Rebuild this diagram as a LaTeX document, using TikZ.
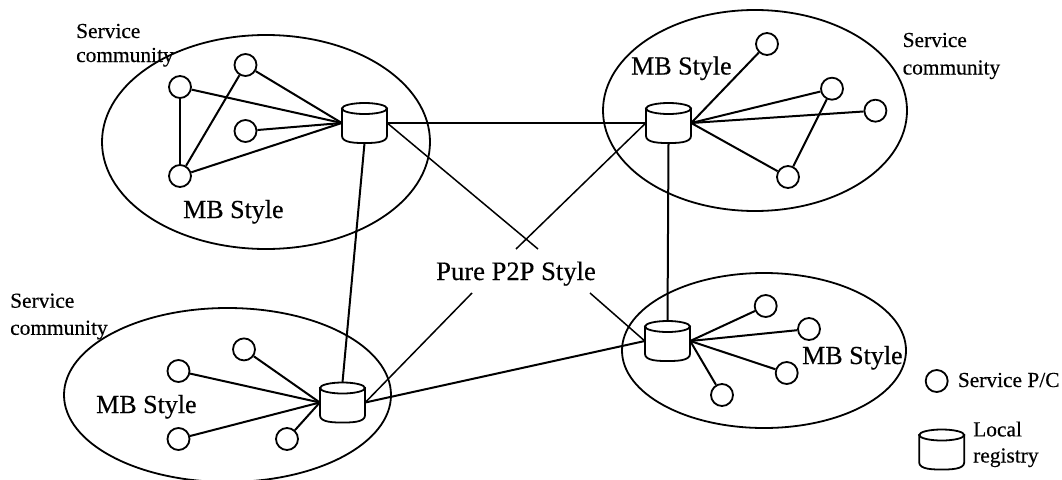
\documentclass[tikz,border=0pt]{standalone}
\usepackage{fontspec}
\setmainfont{Liberation Serif}[FakeBold=0.35]
\usetikzlibrary{shapes.geometric}
\tikzset{
  community/.style={draw=black,line width=1.8pt,ellipse,inner sep=0pt},
  peer/.style={draw=black,fill=white,line width=1.8pt,circle,minimum size=22pt,inner sep=0pt},
  hub/.style={minimum width=45pt,minimum height=40pt,inner sep=0pt},
  hub line/.style={draw=black,fill=white,line width=1.8pt},
  link/.style={draw=black,line width=2pt},
  backbone/.style={draw=black,line width=2pt},
  thin link/.style={draw=black,line width=1.5pt},
  big/.style={anchor=base west,inner sep=0pt,font=\fontsize{26}{28}\selectfont},
  bigger/.style={anchor=base west,inner sep=0pt,font=\fontsize{26.6}{28}\selectfont},
  small/.style={anchor=base west,inner sep=0pt,font=\fontsize{21.4}{25}\selectfont},
}
\newcommand{\registry}[3]{%
  \node[hub] (#1) at (#2,#3) {};
  \begin{scope}[shift={(#1.center)}]
    \path[hub line] (-22.5,-14.5) -- (-22.5,13) .. controls (-22.5,20) and (-8,20) .. (0,20)
      .. controls (8,20) and (22.5,20) .. (22.5,13) -- (22.5,-14.5) -- cycle;
    \path[hub line] (0,-14.5) ellipse [x radius=22.5pt,y radius=5.5pt];
  \end{scope}}
\begin{document}
\begin{tikzpicture}[x=1pt,y=-1pt]
\useasboundingbox (0,0) rectangle (1062,479);
% communities
\node[community,minimum width=328pt,minimum height=214pt] (c1) at (266,142) {};
\node[community,minimum width=304pt,minimum height=201pt] (c2) at (755,110.5) {};
\node[community,minimum width=327pt,minimum height=174pt] (c3) at (227.5,395) {};
\node[community,minimum width=284pt,minimum height=155pt] (c4) at (764,350.5) {};
% registries
\registry{h1}{364.5}{123}
\registry{h2}{668.5}{123}
\registry{h3}{342.5}{402.5}
\registry{h4}{667.5}{341}
% peers top left
\node[peer] (a1) at (180,87) {};
\node[peer] (a2) at (245.5,65) {};
\node[peer] (a3) at (245.5,131) {};
\node[peer] (a4) at (180,176) {};
% peers top right
\node[peer] (b1) at (767,44) {};
\node[peer] (b2) at (832,88.7) {};
\node[peer] (b3) at (875.4,110.7) {};
\node[peer] (b4) at (788,177) {};
% peers bottom left
\node[peer] (d1) at (244,349.4) {};
\node[peer] (d2) at (178.5,371) {};
\node[peer] (d3) at (178.5,439) {};
\node[peer] (d4) at (287,439) {};
% peers bottom right
\node[peer] (e1) at (765.7,306) {};
\node[peer] (e2) at (809,329) {};
\node[peer] (e3) at (786.7,373) {};
\node[peer] (e4) at (722,395) {};
% legend
\node[peer] (lp) at (936.7,381) {};
\registry{lh}{941.7}{449.5}
% labels
\node[small] (s1a) at (76,38) {Service};
\node[small] (s1b) at (76,62) {community};
\node[small] (s2a) at (902.5,47) {Service};
\node[small] (s2b) at (902.5,74.5) {community};
\node[small] (s3a) at (10,307.7) {Service};
\node[small] (s3b) at (10,334.8) {community};
\node[big] (m1) at (183,218) {MB Style};
\node[big] (m2) at (631,74.5) {MB Style};
\node[big] (m3) at (96,413) {MB Style};
\node[big] (m4) at (802,364) {MB Style};
\node[bigger] (pp) at (436,280) {Pure P2P Style};
\node[small] (lp1) at (957.7,387) {Service P/C};
\node[small] (lh1) at (973,436.4) {Local};
\node[small] (lh2) at (973,462.5) {registry};
% free ends of the P2P lines at the label
\coordinate (p1) at (538,249);
\coordinate (p2) at (516,249);
\coordinate (p3) at (472,293);
\coordinate (p4) at (590,293);
% connectors
\draw[link] (a1) -- (h1.west);
\draw[link] (a2) -- (h1.west);
\draw[link] (a3) -- (h1.west);
\draw[link] (a4) -- (h1.west);
\draw[link] (a1) -- (a4);
\draw[link] (a2) -- (a4);
\draw[link] (b1) -- (h2.east);
\draw[link] (b2) -- (h2.east);
\draw[link] (b3) -- (h2.east);
\draw[link] (b4) -- (h2.east);
\draw[link] (b2) -- (b4);
\draw[link] (d1) -- (h3.west);
\draw[link] (d2) -- (h3.west);
\draw[link] (d3) -- (h3.west);
\draw[link] (d4) -- (h3.west);
\draw[link] (e1) -- (h4.east);
\draw[link] (e2) -- (h4.east);
\draw[link] (e3) -- (h4.east);
\draw[link] (e4) -- (h4.east);
\draw[backbone] (h1.east) -- (h2.west);
\draw[backbone] (h1.south) -- (h3.north);
\draw[backbone] (h2.south) -- (h4.north);
\draw[backbone] (h3.east) -- (h4.west);
\draw[thin link] (h1.east) -- (p1);
\draw[thin link] (h2.west) -- (p2);
\draw[thin link] (p3) -- (h3.east);
\draw[thin link] (p4) -- (h4.west);
\end{tikzpicture}
\end{document}
